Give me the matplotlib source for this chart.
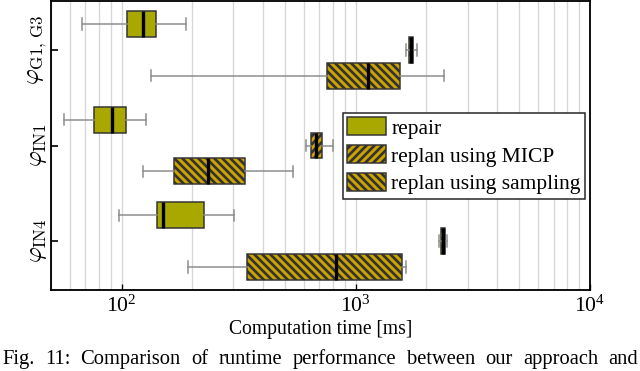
import matplotlib
matplotlib.use("Agg")
import matplotlib.pyplot as plt
from matplotlib.patches import Patch

# box stats (ms): q1, median, q3, whisker low, whisker high
groups = [r"$\varphi_{\mathrm{G1,\,G3}}$", r"$\varphi_{\mathrm{IN1}}$", r"$\varphi_{\mathrm{IN4}}$"]
methods = ["repair", "replan using MICP", "replan using sampling"]

repair_q1 = [106, 76, 142]
repair_med = [124, 91.5, 151]
repair_q3 = [141, 104, 224]
repair_lo = [68, 56.6, 98]
repair_hi = [189, 127, 303]

micp_q1 = [1690, 646, 2317]
micp_med = [1724, 679, 2363]
micp_q3 = [1758, 719, 2410]
micp_lo = [1641, 615, 2270]
micp_hi = [1828, 802, 2450]

samp_q1 = [755, 167, 344]
samp_med = [1130, 233, 826]
samp_q3 = [1549, 335, 1578]
samp_lo = [133, 123, 193]
samp_hi = [2383, 541, 1641]

caption = "Fig. 11: Comparison of runtime performance between our approach and"

plt.rcParams['font.family'] = ['Liberation Serif', 'DejaVu Serif']
plt.rcParams['mathtext.fontset'] = 'cm'
plt.rcParams['hatch.linewidth'] = 1.6
plt.rcParams['hatch.color'] = 'black'

fs = 11.8
c_repair = '#a8a800'
c_replan = '#cca300'
h_micp = '/////'
h_samp = '\\\\\\\\\\'

fig = plt.figure(figsize=(640 / 120, 371 / 120), dpi=120)
ax = fig.add_axes([51 / 640, 1 - 290 / 371, 539 / 640, 289 / 371])


def make_stats(q1, med, q3, lo, hi):
    return [dict(q1=a, med=b, q3=c, whislo=d, whishi=e, fliers=[])
            for a, b, c, d, e in zip(q1, med, q3, lo, hi)]


series = [
    (make_stats(repair_q1, repair_med, repair_q3, repair_lo, repair_hi), -0.27, c_repair, None),
    (make_stats(micp_q1, micp_med, micp_q3, micp_lo, micp_hi), 0.0, c_replan, h_micp),
    (make_stats(samp_q1, samp_med, samp_q3, samp_lo, samp_hi), 0.27, c_replan, h_samp),
]

for stats, off, col, hatch in series:
    pos = [i + 1 + off for i in range(len(groups))]
    bp = ax.bxp(stats, positions=pos, widths=0.27, vert=False, patch_artist=True,
                showfliers=False, manage_ticks=False,
                boxprops=dict(facecolor=col, edgecolor='#333333', linewidth=0.9),
                medianprops=dict(color='black', linewidth=2.0),
                whiskerprops=dict(color='#8c8c8c', linewidth=0.9),
                capprops=dict(color='#8c8c8c', linewidth=0.9),
                capwidths=0.12)
    for b in bp['boxes']:
        if hatch:
            b.set_hatch(hatch)

ax.set_xscale('log')
ax.set_xlim(50, 1e4)
ax.set_ylim(3.51, 0.49)
ax.set_yticks([1, 2, 3])
ax.set_yticklabels(groups, rotation=90, va='center', fontsize=14.5)
ax.tick_params(axis='y', direction='in', length=4, width=1, pad=1)
ax.tick_params(axis='x', which='both', direction='in', labelsize=13)
ax.tick_params(axis='x', which='minor', length=0)
ax.grid(True, axis='x', which='both', color='#d6d6d6', linewidth=0.8)
ax.set_axisbelow(True)
for s in ax.spines.values():
    s.set_linewidth(1.1)
ax.set_xlabel('Computation time [ms]', fontsize=fs, labelpad=2)

handles = [Patch(facecolor=c_repair, edgecolor='#333333', linewidth=0.9),
           Patch(facecolor=c_replan, edgecolor='#333333', linewidth=0.9, hatch=h_micp),
           Patch(facecolor=c_replan, edgecolor='#333333', linewidth=0.9, hatch=h_samp)]
leg = ax.legend(handles, methods, loc='upper right', bbox_to_anchor=(0.991, 0.612),
                fontsize=12.9, fancybox=False, framealpha=1, edgecolor='#222222',
                handlelength=1.8, handleheight=0.9, handletextpad=0.25,
                labelspacing=0.3, borderpad=0.2, borderaxespad=0)
leg.get_frame().set_linewidth(0.9)

# justified caption line, words spread across the full width
words = caption.split()
fig.canvas.draw()
r = fig.canvas.get_renderer()
texts = [fig.text(0, 0.006, w, ha='left', va='bottom', fontsize=12.3) for w in words]
widths = [t.get_window_extent(r).width for t in texts]
x0, x1 = 2, 638
gap = (x1 - x0 - sum(widths)) / (len(words) - 1)
x = x0
for t, w in zip(texts, widths):
    t.set_x(x / 640)
    x += w + gap

fig.savefig('out.png', dpi=120)
